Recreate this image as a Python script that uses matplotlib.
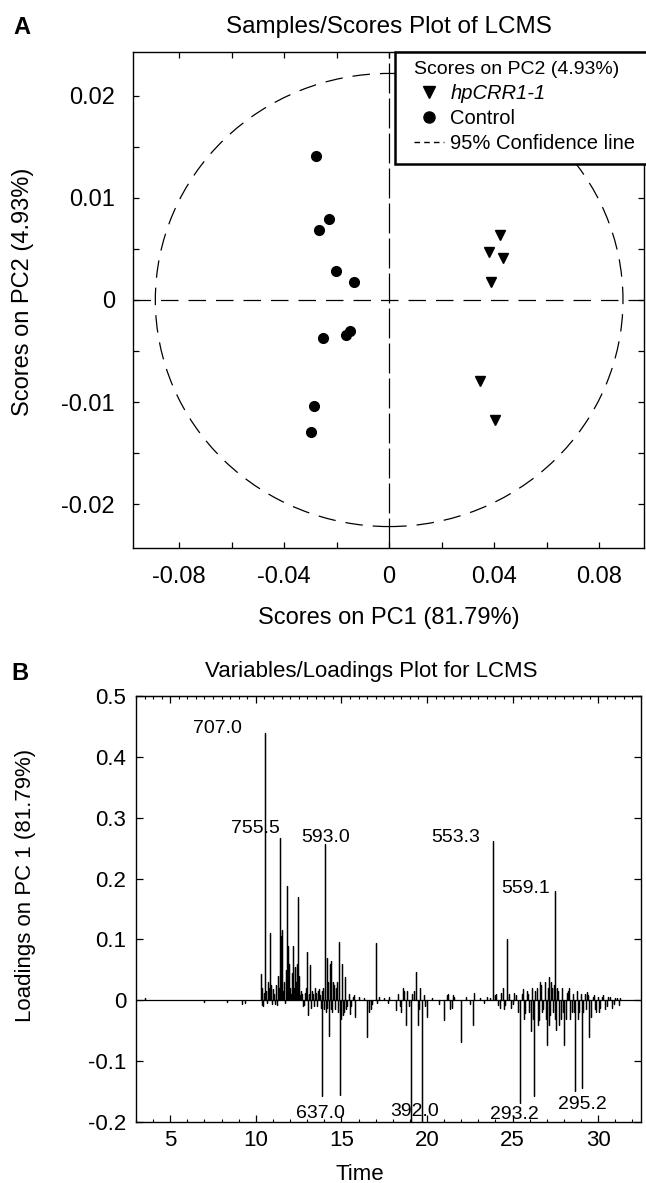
import numpy as np
import matplotlib
matplotlib.use("Agg")
import matplotlib.pyplot as plt
from matplotlib.patches import Ellipse, Rectangle
from matplotlib.lines import Line2D

plt.rcParams['font.family'] = ['Liberation Sans', 'DejaVu Sans']

# ---- panel A: scores ----
ctrl_pc1 = [-0.0278, -0.0229, -0.0267, -0.0202, -0.0133, -0.0251, -0.0164, -0.0149, -0.0286, -0.0297]
ctrl_pc2 = [0.0141, 0.0079, 0.0069, 0.0028, 0.0018, -0.0037, -0.0034, -0.0030, -0.0104, -0.0129]
hp_pc1 = [0.0423, 0.0379, 0.0434, 0.0389, 0.0347, 0.0403]
hp_pc2 = [0.0064, 0.0047, 0.0041, 0.0018, -0.0079, -0.0118]
conf_a = 0.089     # 95% ellipse half width (PC1)
conf_b = 0.0222    # 95% ellipse half height (PC2)

# ---- panel B: loadings (time, loading) ----
spike_t = [3.5, 7.0, 8.3, 9.2, 9.35,
           10.30, 10.38, 10.45, 10.51, 10.60, 10.70, 10.82, 10.90, 11.00, 11.10,
           11.20, 11.30, 11.39, 11.47, 11.55, 11.65, 11.74, 11.84, 11.92, 12.00,
           12.10, 12.19, 12.28, 12.37, 12.46, 12.55, 12.65, 12.75, 12.88, 12.99,
           13.05, 13.15, 13.25, 13.35, 13.45, 13.55, 13.65, 13.75, 13.89, 13.95,
           14.02, 14.10, 14.18, 14.26, 14.34, 14.42, 14.50, 14.60, 14.70, 14.83,
           14.94, 15.02, 15.10, 15.22, 15.35, 15.50, 15.65, 15.80, 16.05, 16.30,
           16.50, 16.62, 16.80, 17.00, 17.20, 17.50, 17.70, 18.20, 18.40, 18.60,
           18.75, 18.85, 19.05, 19.15, 19.35, 19.45, 19.70, 19.80, 20.00, 20.30,
           20.70, 21.00, 21.15, 21.35, 21.60, 22.00, 22.30, 22.70, 22.75, 23.10,
           23.50, 23.87, 23.95, 24.15, 24.35, 24.50, 24.66, 24.80, 25.00, 25.20,
           25.45, 25.60, 25.75, 25.90, 26.05, 26.27, 26.40, 26.55, 26.65, 26.80,
           27.00, 27.10, 27.20, 27.30, 27.46, 27.55, 27.65, 27.80, 28.03, 28.15,
           28.30, 28.45, 28.63, 28.75, 28.90, 29.07, 29.20, 29.35, 29.47, 29.60,
           29.75, 29.90, 30.10, 30.30, 30.50, 30.70, 30.90, 31.10]
spike_y = [0.003, -0.002, -0.002, -0.006, -0.004,
           0.043, -0.008, 0.012, 0.440, 0.015, 0.030, 0.110, 0.025, 0.018, -0.006,
           0.012, 0.040, 0.266, 0.105, 0.116, 0.030, 0.050, 0.187, 0.060, 0.020,
           0.035, 0.090, 0.054, 0.030, 0.169, 0.040, 0.015, -0.010, 0.012, 0.080,
           -0.024, 0.058, -0.012, 0.010, 0.020, -0.008, 0.015, 0.008, -0.157, 0.020,
           0.256, -0.020, 0.070, -0.058, 0.060, -0.015, 0.030, -0.012, 0.020, 0.096,
           -0.156, 0.060, -0.025, 0.039, -0.010, -0.022, 0.005, -0.027, 0.005, 0.003,
           -0.060, -0.020, -0.006, 0.094, 0.005, 0.004, -0.004, -0.016, -0.010, 0.020,
           -0.040, 0.015, -0.200, 0.010, 0.046, -0.040, -0.200, 0.008, -0.027, 0.004,
           -0.006, -0.032, 0.008, -0.015, 0.006, -0.069, 0.005, -0.041, 0.012, 0.003,
           0.006, 0.262, 0.008, -0.008, 0.012, -0.015, 0.100, 0.010, -0.006, 0.008,
           -0.168, 0.018, -0.021, 0.010, -0.050, -0.157, 0.020, -0.032, 0.025, -0.015,
           -0.073, 0.038, -0.025, 0.020, 0.179, -0.049, 0.015, -0.030, -0.073, 0.012,
           0.020, -0.020, -0.149, 0.015, -0.020, -0.144, 0.010, 0.013, -0.060, -0.027,
           0.008, -0.020, -0.012, 0.008, -0.010, 0.005, -0.006, 0.004]

# small fluctuations between the main peaks
noise_t = [10.34, 10.42, 10.56, 10.65, 10.75, 10.86, 10.95, 11.05, 11.15, 11.25,
           11.34, 11.43, 11.51, 11.60, 11.70, 11.79, 11.88, 11.96, 12.05, 12.14,
           12.24, 12.33, 12.42, 12.50, 12.60, 12.70, 12.82, 12.94, 13.10, 13.20,
           13.30, 13.40, 13.50, 13.60, 13.70, 13.80, 13.84, 13.98, 14.06, 14.14,
           14.22, 14.30, 14.38, 14.46, 14.55, 14.65, 14.75, 14.79, 14.88, 14.98,
           15.06, 15.15, 15.18, 15.28, 15.42, 15.58, 15.72, 16.70, 17.10, 17.80,
           18.30, 18.50, 18.68, 18.95, 19.25, 19.55, 19.60, 19.90, 21.25, 21.45,
           21.50, 22.50, 23.30, 23.70, 24.05, 24.25, 24.42, 24.58, 24.90, 25.10,
           25.30, 25.52, 25.68, 25.83, 25.97, 26.13, 26.20, 26.33, 26.47, 26.60,
           26.72, 26.88, 26.95, 27.05, 27.15, 27.25, 27.35, 27.40, 27.50, 27.60,
           27.72, 27.88, 27.95, 28.10, 28.22, 28.38, 28.52, 28.58, 28.82, 28.98,
           29.13, 29.28, 29.40, 29.55, 29.68, 29.82, 29.97, 30.05, 30.20, 30.40,
           30.60, 30.80, 31.00, 31.20, 31.30]
noise_y = [0.020, -0.010, 0.008, -0.005, 0.020, 0.015, -0.006, 0.010, 0.025, -0.008,
           0.020, 0.060, 0.030, 0.015, -0.005, 0.030, 0.090, 0.020, 0.010, 0.045,
           0.020, 0.015, 0.060, 0.020, 0.008, 0.010, -0.008, 0.020, 0.010, -0.006,
           0.015, -0.010, 0.012, -0.010, 0.018, -0.012, 0.015, -0.015, 0.040, -0.012,
           0.030, -0.030, 0.065, -0.020, 0.025, -0.015, 0.030, -0.020, 0.050, -0.030,
           0.040, -0.020, 0.020, -0.015, 0.010, -0.010, 0.008, -0.015, -0.004, 0.006,
           0.010, -0.020, 0.015, -0.010, 0.015, -0.015, 0.020, -0.010, 0.010, -0.012,
           0.008, -0.006, -0.004, 0.004, 0.010, -0.012, 0.020, -0.008, -0.012, 0.012,
           -0.020, 0.010, -0.030, 0.015, -0.020, 0.020, -0.030, 0.015, -0.040, 0.030,
           -0.020, 0.030, -0.030, 0.020, -0.040, 0.030, -0.020, 0.025, -0.030, 0.020,
           -0.040, 0.020, -0.020, -0.030, 0.015, -0.030, 0.010, -0.020, -0.030, 0.010,
           -0.020, -0.015, 0.008, -0.020, 0.006, -0.015, 0.005, -0.020, 0.005, -0.015,
           0.006, -0.012, 0.004, -0.008, 0.004]

peak_names = ['707.0', '755.5', '593.0', '553.3', '559.1', '637.0', '392.0', '293.2', '295.2']
peak_lx = [7.75, 10.0, 14.1, 21.7, 25.76, 13.8, 19.3, 25.1, 29.07]
peak_ly = [0.447, 0.283, 0.267, 0.268, 0.184, -0.186, -0.182, -0.187, -0.172]

fig = plt.figure(figsize=(6.46, 11.83), dpi=100)
W, H = 646, 1183

# ================= A =================
axA = fig.add_axes([133 / W, 1 - 548 / H, (644 - 133) / W, (548 - 52) / H])
axA.set_xlim(-0.0975, 0.097)
axA.set_ylim(-0.0243, 0.0243)

axA.axhline(0, color='black', lw=0.9, dashes=(14, 8))
axA.axvline(0, color='black', lw=0.9, dashes=(24, 4))
ell = Ellipse((0, 0), 2 * conf_a, 2 * conf_b, fill=False, edgecolor='black',
              lw=0.9, linestyle=(0, (14, 8)))
axA.add_patch(ell)

axA.plot(hp_pc1, hp_pc2, 'v', color='black', markersize=7)
axA.plot(ctrl_pc1, ctrl_pc2, 'o', color='black', markersize=7)

axA.set_xticks([-0.08, -0.06, -0.04, -0.02, 0, 0.02, 0.04, 0.06, 0.08])
axA.set_xticklabels(['-0.08', '', '-0.04', '', '0', '', '0.04', '', '0.08'])
axA.set_yticks([-0.02, -0.015, -0.01, -0.005, 0, 0.005, 0.01, 0.015, 0.02])
axA.set_yticklabels(['-0.02', '', '-0.01', '', '0', '', '0.01', '', '0.02'])
axA.tick_params(direction='in', length=4, width=0.9, top=True, right=True,
                labelsize=17, pad=13)
for s in axA.spines.values():
    s.set_linewidth(1.0)

# legend box drawn by hand so it sits flush with the top/right of the axes
box = Rectangle((395 / W, 1 - 164 / H), (648 - 395) / W, (164 - 52) / H,
                transform=fig.transFigure, facecolor='white', edgecolor='black',
                lw=1.8, zorder=5, clip_on=False)
fig.patches.append(box)

handles = [Line2D([], [], ls='none', marker='v', color='black', markersize=8),
           Line2D([], [], ls='none', marker='o', color='black', markersize=8),
           Line2D([], [], color='black', lw=1.0, dashes=(4, 3))]
leg = fig.legend(handles, ['hpCRR1-1', 'Control', '95% Confidence line'],
                 title='Scores on PC2 (4.93%)', loc='upper left',
                 bbox_to_anchor=(414 / W, 1 - 61 / H), bbox_transform=fig.transFigure,
                 borderaxespad=0, borderpad=0, fontsize=14.5, title_fontsize=14,
                 frameon=False, handlelength=1.5, handletextpad=0.3,
                 labelspacing=0.3, alignment='left')
leg.set_zorder(6)
leg.get_texts()[0].set_fontstyle('italic')

fig.text(22 / W, 1 - 27 / H, 'A', fontsize=17, fontweight='bold', ha='center', va='center')
fig.text(389 / W, 1 - 27 / H, 'Samples/Scores Plot of LCMS', fontsize=17.5, ha='center', va='center')
fig.text(389 / W, 1 - 618 / H, 'Scores on PC1 (81.79%)', fontsize=17, ha='center', va='center')
fig.text(23 / W, 1 - 292 / H, 'Scores on PC2 (4.93%)', fontsize=17, ha='center', va='center',
         rotation=90)

# ================= B =================
axB = fig.add_axes([136 / W, 1 - 1122 / H, (641 - 136) / W, (1122 - 696) / H])
axB.set_xlim(3.0, 32.5)
axB.set_ylim(-0.2, 0.5)

all_t = np.array(spike_t + noise_t)
all_y = np.array(spike_y + noise_y)
order = np.argsort(all_t)
all_t, all_y = all_t[order], all_y[order]
t = np.repeat(all_t, 3)
y = np.column_stack([np.zeros(len(all_y)), all_y, np.zeros(len(all_y))]).ravel()
t = np.concatenate([[3.0], t, [32.5]])
y = np.concatenate([[0.0], y, [0.0]])
axB.plot(t, y, color='black', lw=0.9)

axB.set_xticks([5, 10, 15, 20, 25, 30])
axB.set_xticks(np.arange(3, 32.6, 1.0), minor=True)
axB.set_yticks([-0.2, -0.1, 0, 0.1, 0.2, 0.3, 0.4, 0.5])
axB.set_yticklabels(['-0.2', '-0.1', '0', '0.1', '0.2', '0.3', '0.4', '0.5'])
axB.tick_params(which='major', direction='in', length=5, width=0.9, top=False, right=True,
                labelsize=16)
axB.tick_params(axis='y', pad=7)
axB.tick_params(axis='x', pad=6)
axB.tick_params(which='minor', direction='in', length=2.5, width=0.8, top=False, right=False)
top = axB.secondary_xaxis('top')
top.set_xticks([5, 10, 15, 20, 25, 30])
top.set_xticks(np.arange(3, 32.6, 0.5), minor=True)
top.tick_params(which='major', direction='in', length=5, width=0.9, labeltop=False)
top.tick_params(which='minor', direction='in', length=2.5, width=0.8)
for s in axB.spines.values():
    s.set_linewidth(1.0)

for name, lx, ly in zip(peak_names, peak_lx, peak_ly):
    axB.text(lx, ly, name, fontsize=14, ha='center', va='center')

fig.text(20 / W, 1 - 673 / H, 'B', fontsize=17, fontweight='bold', ha='center', va='center')
fig.text(371 / W, 1 - 672 / H, 'Variables/Loadings Plot for LCMS', fontsize=16, ha='center',
         va='center')
fig.text(360 / W, 1 - 1174 / H, 'Time', fontsize=16, ha='center', va='center')
fig.text(26 / W, 1 - 885 / H, 'Loadings on PC 1 (81.79%)', fontsize=16, ha='center',
         va='center', rotation=90)

fig.savefig('out.png', dpi=100)
